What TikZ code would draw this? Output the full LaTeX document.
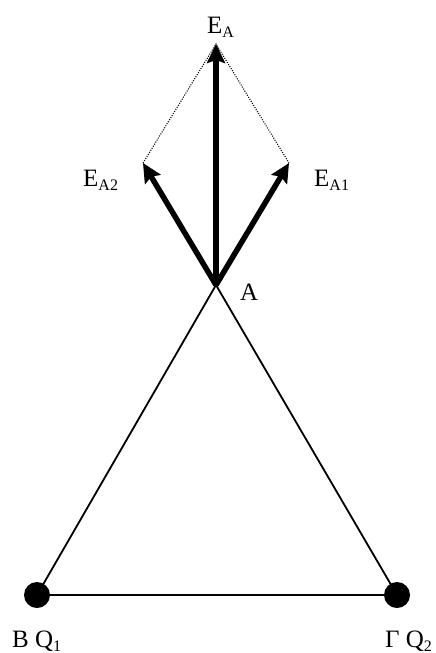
\documentclass[tikz,border=0pt]{standalone}
\usepackage{fontspec}
\setmainfont{Liberation Serif}
\usetikzlibrary{arrows.meta}
\newcommand{\mysub}[1]{\raisebox{-4pt}{\fontsize{16}{16}\selectfont #1}}
\begin{document}
\begin{tikzpicture}[x=1pt,y=-1pt,
  vec/.style={line width=5.5pt,-{Stealth[length=19pt,width=18pt,inset=3pt]}},
  side/.style={line width=1.8pt},
  guide/.style={line width=1.1pt,dash pattern=on 1pt off 1.4pt},
  charge/.style={circle,fill=black,inner sep=0pt,minimum size=26pt},
  lbl/.style={anchor=base west,inner sep=0pt,font=\fontsize{25}{29}\selectfont}]
\useasboundingbox (0,0) rectangle (436,653);
\coordinate (A) at (216,285);
\coordinate (EA) at (216,44);
\coordinate (EA1) at (289,163);
\coordinate (EA2) at (143,163);
\node[charge] (B) at (37,595) {};
\node[charge] (G) at (397,595) {};
\draw[side] (A) -- (B.center);
\draw[side] (A) -- (G.center);
\draw[side] (B.center) -- (G.center);
\draw[guide] (EA2) -- (EA) -- (EA1);
\draw[vec] (A) -- (EA);
\draw[vec] (A) -- (EA1);
\draw[vec] (A) -- (EA2);
\node[lbl] (tEA) at (207,33) {E\mysub{A}};
\node[lbl] (tEA2) at (83,186) {E\mysub{A2}};
\node[lbl] (tEA1) at (314,186) {E\mysub{A1}};
\node[lbl] (tA) at (240,300) {A};
\node[lbl] (tB) at (12,647) {B Q\mysub{1}};
\node[lbl] (tG) at (385,647) {Γ Q\mysub{2}};
\end{tikzpicture}
\end{document}
